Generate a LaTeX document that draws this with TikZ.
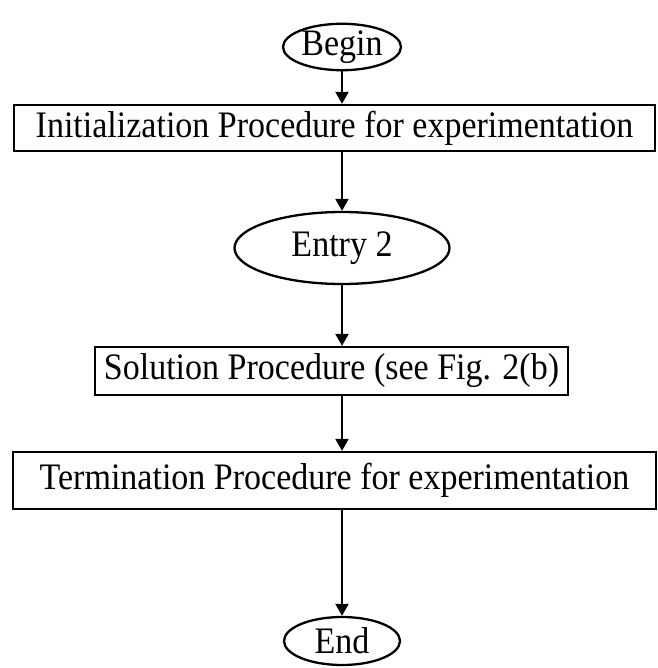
\documentclass[tikz,border=0pt]{standalone}
\usepackage{fontspec}
\usepackage{graphicx}
\setmainfont{Liberation Serif}
\usetikzlibrary{shapes.geometric,arrows.meta}
\newcommand{\talltxt}[1]{\scalebox{1}[1.1]{#1}}
\begin{document}
\begin{tikzpicture}[x=1pt,y=-1pt,
  every node/.style={font=\fontsize{34}{40}\selectfont},
  box/.style={draw, line width=2.3pt, rectangle, inner sep=0pt},
  oval/.style={draw, ellipse, line width=2.3pt, inner sep=0pt},
  arr/.style={-{Triangle[length=12pt,width=13pt]}, line width=2pt}]
\useasboundingbox (0,0) rectangle (657,668);
\node[oval, minimum width=118pt, minimum height=46pt] (begin) at (342,47) {\talltxt{Begin}};
\node[box, minimum width=641pt, minimum height=46pt] (init) at (334.5,128) {\talltxt{Initialization Procedure for experimentation}};
\node[oval, minimum width=215pt, minimum height=72pt] (entry) at (342,248) {\talltxt{Entry 2}};
\node[box, minimum width=473pt, minimum height=48pt] (sol) at (331.5,371) {\talltxt{Solution Procedure (see Fig. 2(b)}};
\node[box, minimum width=643pt, minimum height=57pt] (term) at (334.5,480.5) {\talltxt{Termination Procedure for experimentation}};
\node[oval, minimum width=116pt, minimum height=48pt] (end) at (342,641) {\talltxt{End}};
\draw[arr] (begin.south) -- (begin.south |- init.north);
\draw[arr] (init.south -| entry.north) -- (entry.north);
\draw[arr] (entry.south) -- (entry.south |- sol.north);
\draw[arr] (sol.south -| entry.south) -- (term.north -| entry.south);
\draw[arr] (term.south -| end.north) -- (end.north);
\end{tikzpicture}
\end{document}
